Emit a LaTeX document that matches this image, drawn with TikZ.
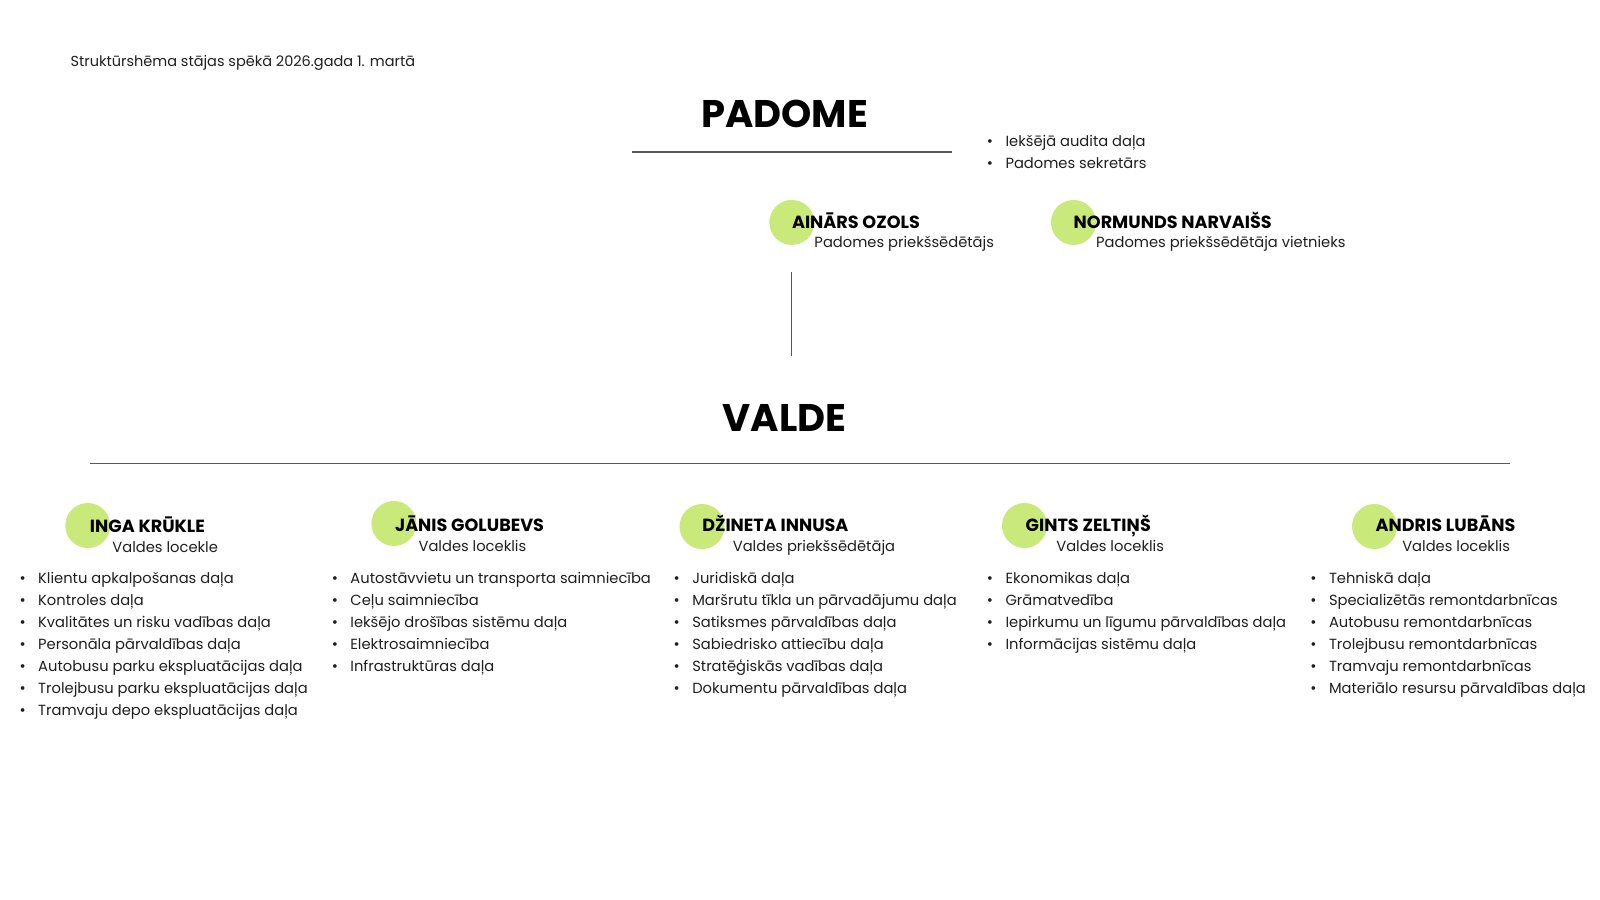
\documentclass[tikz,border=0pt]{standalone}
\usepackage{fontspec}
\setmainfont{Poppins}
\usetikzlibrary{positioning}
\definecolor{lime}{RGB}{201,234,122}
\definecolor{ink}{RGB}{30,30,30}
\tikzset{
    org/.style={x=1.0204pt,y=-1.0204pt,every node/.append style={text=ink}},
    head/.style={anchor=base,inner sep=0pt,font=\bfseries\fontsize{38.5}{44}\selectfont,text=black},
    person/.style={anchor=base west,inner sep=0pt,font=\bfseries\fontsize{17.6}{20}\selectfont,text=black},
    post/.style={anchor=base west,inner sep=0pt,font=\fontsize{14.7}{18}\selectfont},
    badge/.style={circle,fill=lime,minimum size=45pt,inner sep=0pt},
    depts/.style={anchor=base west,inner sep=0pt,align=left,font=\fontsize{14.7}{22.04}\selectfont},
    hline/.style={draw=black!65,line width=1.2pt}
}
\newcommand{\bul}[1]{\makebox[18.6pt][l]{\fontsize{15}{15}\selectfont •}#1}

\begin{document}
\begin{tikzpicture}[org]
    \useasboundingbox (0,0) rectangle (1568,882);

    \node[post,font=\fontsize{14.5}{18}\selectfont] (note) at (69, 65) {Struktūrshēma stājas spēkā 2026.gada 1. martā};

    \node[head] (padome) at (769, 125) {PADOME};
    \coordinate (pl) at (619, 149);
    \coordinate (pr) at (933, 149);
    \draw[hline] (pl) -- (pr);
    \node[depts] (padomedepts) at (967, 165.6) {\bul{Iekšējā audita daļa}\\\bul{Padomes sekretārs}};

    \node[badge] (d1) at (776, 218) {};
    \node[person] (ozols) at (776, 224) {AINĀRS OZOLS};
    \node[post] (ozolsr) at (798, 243) {Padomes priekšsēdētājs};
    \node[badge] (d2) at (1052, 218) {};
    \node[person] (narvaiss) at (1052, 224) {NORMUNDS NARVAIŠS};
    \node[post] (narvaissr) at (1074, 243) {Padomes priekšsēdētāja vietnieks};

    \coordinate (vt) at (776, 267);
    \coordinate (vb) at (776, 349);
    \draw[hline] (vt) -- (vb);

    \node[head] (valde) at (769, 423) {VALDE};
    \coordinate (vl) at (88, 454);
    \coordinate (vr) at (1480, 454);
    \draw[hline] (vl) -- (vr);

    \node[badge] (d3) at (86, 515) {};
    \node[person] (krukle) at (88, 522) {INGA KRŪKLE};
    \node[post] (kruklerole) at (110, 541) {Valdes locekle};
    \node[depts] (kruklelist) at (19, 701.6) {\bul{Klientu apkalpošanas daļa}\\\bul{Kontroles daļa}\\\bul{Kvalitātes un risku vadības daļa}\\\bul{Personāla pārvaldības daļa}\\\bul{Autobusu parku ekspluatācijas daļa}\\\bul{Trolejbusu parku ekspluatācijas daļa}\\\bul{Tramvaju depo ekspluatācijas daļa}};

    \node[badge] (d4) at (386, 513) {};
    \node[person] (golubevs) at (387, 521) {JĀNIS GOLUBEVS};
    \node[post] (golubevsrole) at (410, 540) {Valdes loceklis};
    \node[depts] (golubevslist) at (325, 658.4) {\bul{Autostāvvietu un transporta saimniecība}\\\bul{Ceļu saimniecība}\\\bul{Iekšējo drošības sistēmu daļa}\\\bul{Elektrosaimniecība}\\\bul{Infrastruktūras daļa}};

    \node[badge] (d5) at (688, 516) {};
    \node[person] (innusa) at (688, 521) {DŽINETA INNUSA};
    \node[post] (innusarole) at (718, 540) {Valdes priekšsēdētāja};
    \node[depts] (innusalist) at (660, 680) {\bul{Juridiskā daļa}\\\bul{Maršrutu tīkla un pārvadājumu daļa}\\\bul{Satiksmes pārvaldības daļa}\\\bul{Sabiedrisko attiecību daļa}\\\bul{Stratēģiskās vadības daļa}\\\bul{Dokumentu pārvaldības daļa}};

    \node[badge] (d6) at (1004, 515) {};
    \node[person] (zeltins) at (1005, 521) {GINTS ZELTIŅŠ};
    \node[post] (zeltinsrole) at (1035, 540) {Valdes loceklis};
    \node[depts] (zeltinslist) at (967, 636.8) {\bul{Ekonomikas daļa}\\\bul{Grāmatvedība}\\\bul{Iepirkumu un līgumu pārvaldības daļa}\\\bul{Informācijas sistēmu daļa}};

    \node[badge] (d7) at (1347, 516) {};
    \node[person] (lubans) at (1348, 521) {ANDRIS LUBĀNS};
    \node[post] (lubansrole) at (1374, 540) {Valdes loceklis};
    \node[depts] (lubanslist) at (1284, 680) {\bul{Tehniskā daļa}\\\bul{Specializētās remontdarbnīcas}\\\bul{Autobusu remontdarbnīcas}\\\bul{Trolejbusu remontdarbnīcas}\\\bul{Tramvaju remontdarbnīcas}\\\bul{Materiālo resursu pārvaldības daļa}};
\end{tikzpicture}
\end{document}
